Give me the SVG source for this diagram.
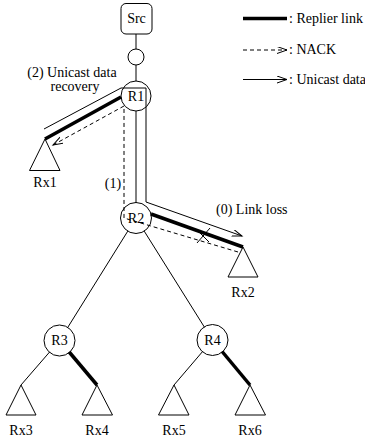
<svg xmlns="http://www.w3.org/2000/svg" width="365" height="442" viewBox="0 0 365 442" font-family="'Liberation Serif', 'DejaVu Serif', serif">
<defs>
<marker id="arr" markerUnits="userSpaceOnUse" markerWidth="12" markerHeight="8" refX="10" refY="3.5" orient="auto">
<path d="M0,0 L10,3.5 L0,7" fill="none" stroke="#000" stroke-width="1"/>
</marker>
<style>
text{font-family:'Liberation Serif','DejaVu Serif',serif;font-size:14px;fill:#000}
.c{text-anchor:middle}
.thin{fill:none;stroke:#000;stroke-width:1}
.thick{fill:none;stroke:#000;stroke-width:3.5}
.dash{fill:none;stroke:#000;stroke-width:1;stroke-dasharray:4,3}
.node{fill:none;stroke:#000;stroke-width:1}
</style>
</defs>
<rect width="365" height="442" fill="#fff"/>
<g id="connectors">
<line class="thin" x1="136" y1="34" x2="136" y2="49"/>
<line class="thin" x1="136" y1="65" x2="136" y2="81"/>
<line class="thin" x1="136" y1="111" x2="136" y2="203"/>
<line class="thick" x1="121" y1="97" x2="45" y2="139"/>
<line class="thick" x1="151" y1="214" x2="243" y2="247"/>
<path class="thin" d="M44,129 L121,88 L146,88 L146,202 L242,236" marker-end="url(#arr)"/>
<path class="dash" d="M238,252 L124,218 L124,106 L53,145" marker-end="url(#arr)"/>
<line class="thin" x1="197" y1="243" x2="210" y2="228"/>
<line class="thin" x1="197" y1="230" x2="209" y2="242"/>
<line class="thin" x1="127.8" y1="231.1" x2="67.5" y2="327.8"/>
<line class="thin" x1="144.2" y1="231.1" x2="204.5" y2="327.3"/>
<line class="thin" x1="49.7" y1="351.9" x2="21" y2="385"/>
<line class="thick" x1="69.2" y1="352" x2="97" y2="385"/>
<line class="thin" x1="202.7" y1="351.4" x2="174" y2="385"/>
<line class="thick" x1="222.1" y1="351.5" x2="250" y2="385"/>
</g>
<g id="src"><rect class="node" x="121" y="3.5" width="31" height="30.5" rx="5"/><text class="c" x="136.5" y="23">Src</text></g>
<g id="n0"><circle class="node" cx="136" cy="57" r="8"/></g>
<g id="R1"><circle class="node" cx="136" cy="96" r="15"/><text class="c" x="136" y="100.5">R1</text></g>
<g id="R2"><circle class="node" cx="136" cy="218" r="15.5"/><text class="c" x="136" y="223">R2</text></g>
<g id="R3"><circle class="node" cx="59.5" cy="340.5" r="15.5"/><text class="c" x="59.5" y="345">R3</text></g>
<g id="R4"><circle class="node" cx="212.5" cy="340" r="15.5"/><text class="c" x="212.5" y="344.5">R4</text></g>
<g id="Rx1"><path class="node" d="M45,139 L29.5,170.5 L60,170.5 Z"/><text class="c" x="45" y="187">Rx1</text></g>
<g id="Rx2"><path class="node" d="M243,247 L228,277 L258,277 Z"/><text class="c" x="243" y="297">Rx2</text></g>
<g id="Rx3"><path class="node" d="M21,385 L6,415 L36,415 Z"/><text class="c" x="21" y="434.5">Rx3</text></g>
<g id="Rx4"><path class="node" d="M97,385 L82,415 L112.5,415 Z"/><text class="c" x="97" y="434.5">Rx4</text></g>
<g id="Rx5"><path class="node" d="M174,385 L158.5,415 L189,415 Z"/><text class="c" x="174" y="434.5">Rx5</text></g>
<g id="Rx6"><path class="node" d="M250,385 L235,415 L265.5,415 Z"/><text class="c" x="250" y="434.5">Rx6</text></g>
<g id="labels">
<text class="c" x="72" y="77">(2) Unicast data</text>
<text class="c" x="75" y="91">recovery</text>
<text class="c" x="113" y="188">(1)</text>
<text x="216" y="213.5">(0) Link loss</text>
</g>
<g id="legend">
<line class="thick" x1="243" y1="18.5" x2="287" y2="18.5"/>
<text x="289" y="22.5">: Replier link</text>
<line class="dash" x1="243" y1="50" x2="287" y2="50" marker-end="url(#arr)"/>
<text x="289" y="54">: NACK</text>
<line class="thin" x1="243" y1="79.5" x2="287" y2="79.5" marker-end="url(#arr)"/>
<text x="289" y="84">: Unicast data</text>
</g>
</svg>
